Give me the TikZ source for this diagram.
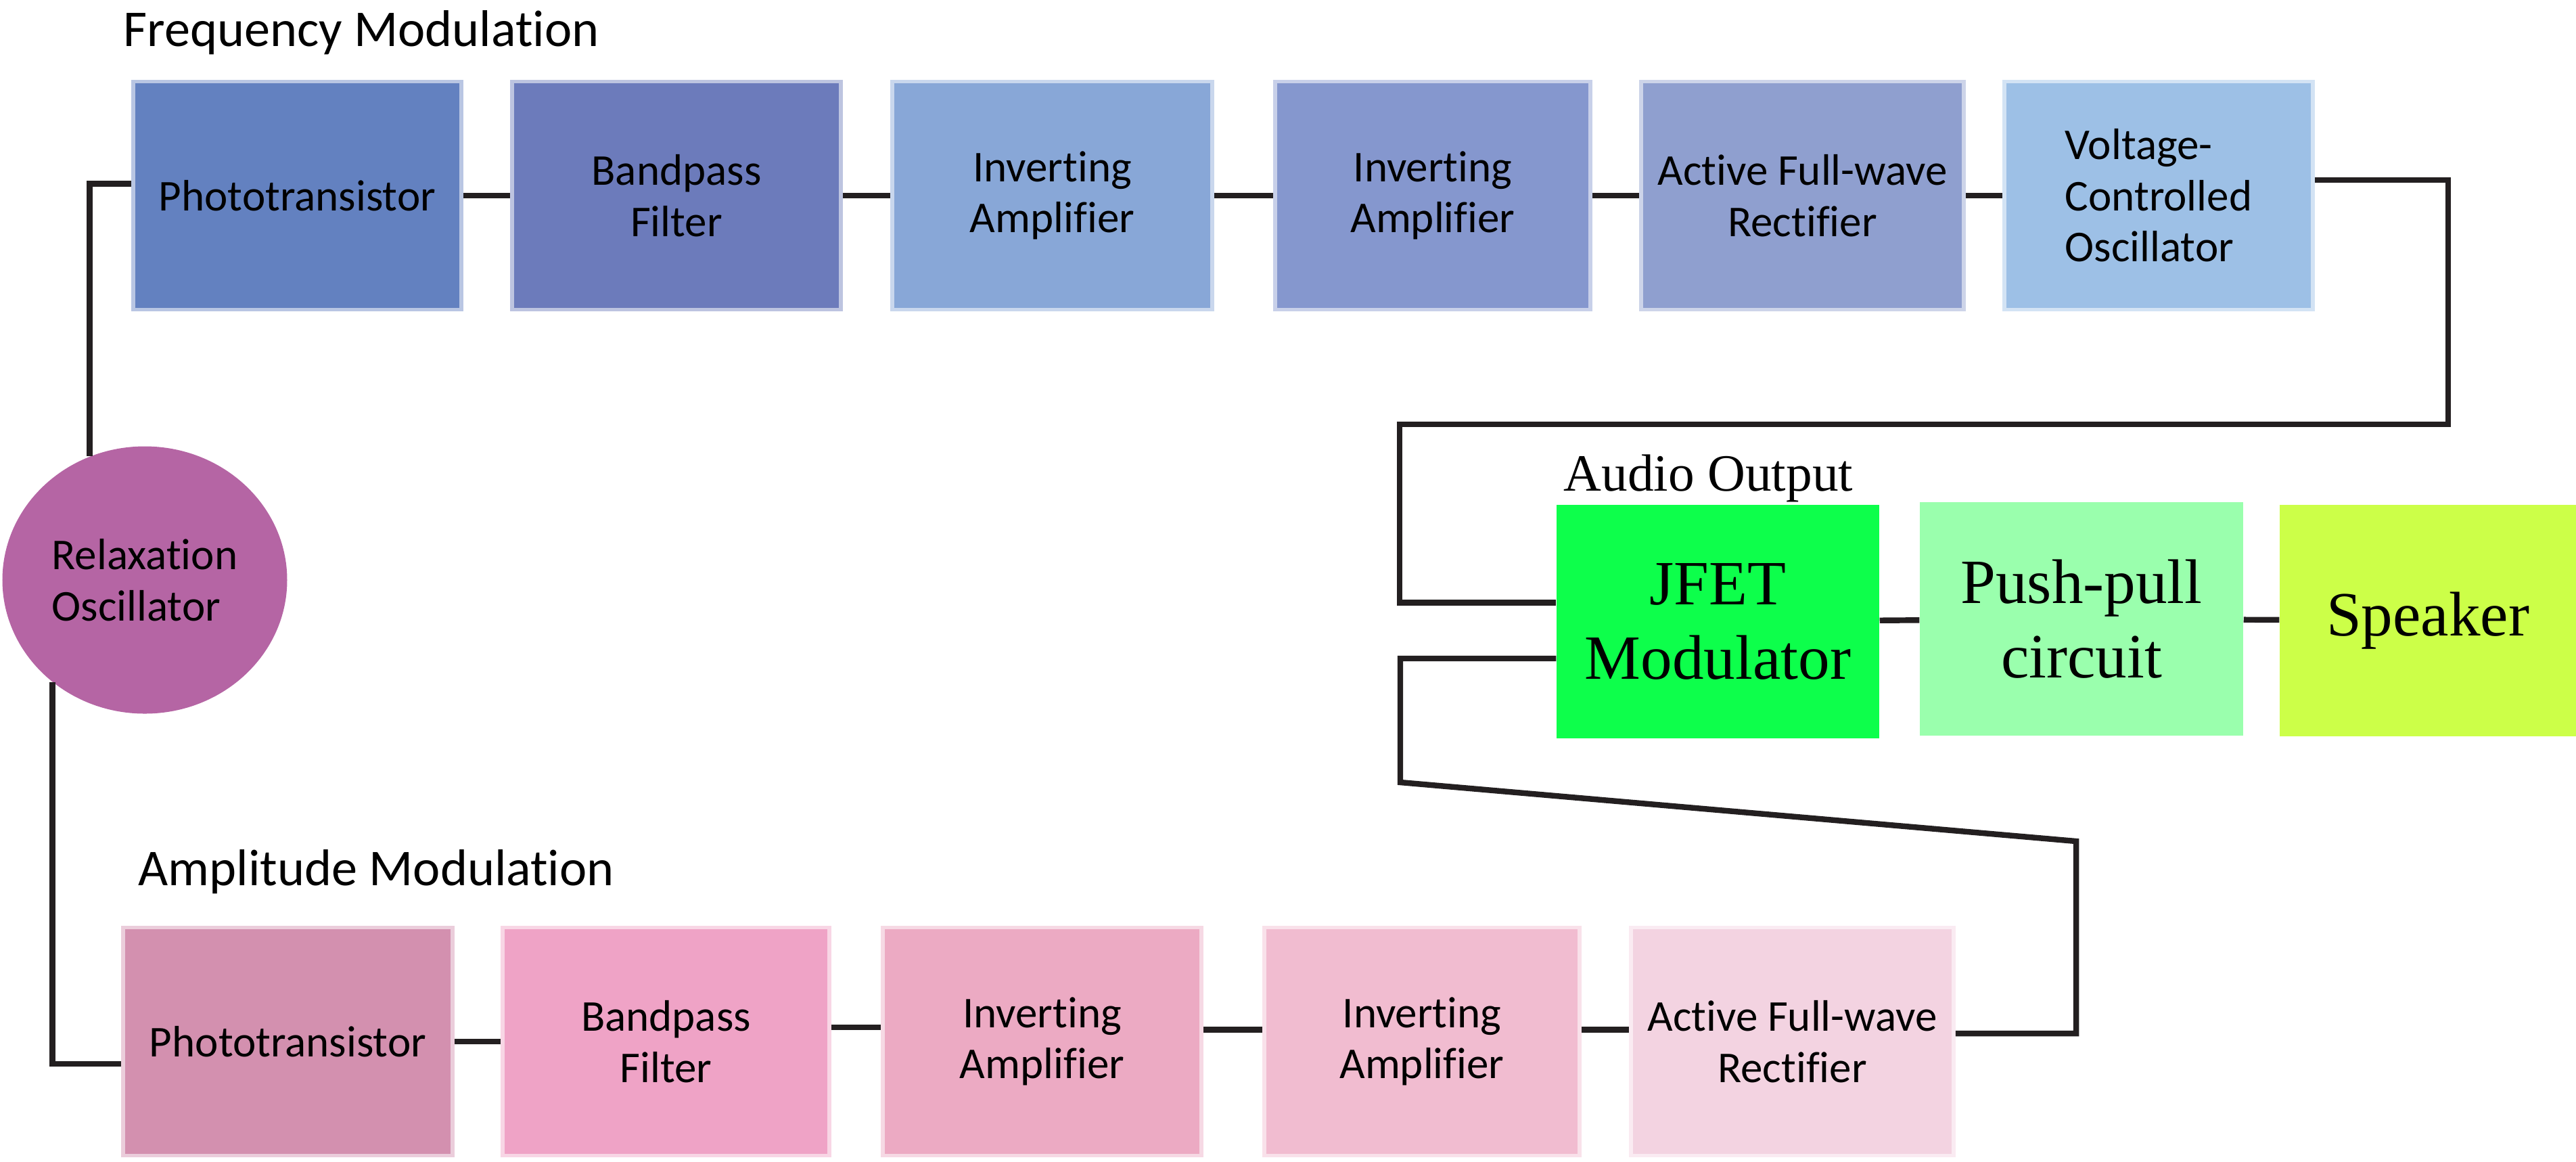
\documentclass[tikz,border=0pt]{standalone}
\usepackage{fontspec}
\setmainfont{Liberation Serif}
\newfontfamily\boxfont[Ligatures=NoCommon]{Carlito}
\usepackage{tikz}
\usetikzlibrary{shapes}
\usepackage{xcolor}
\definecolor{wirecol}{HTML}{231F20}
\definecolor{fmA}{HTML}{6381C0}
\definecolor{fmB}{HTML}{6C7BBB}
\definecolor{fmC}{HTML}{88A7D7}
\definecolor{fmD}{HTML}{8597CE}
\definecolor{fmE}{HTML}{8F9FCF}
\definecolor{fmF}{HTML}{9DC0E6}
\definecolor{amA}{HTML}{D390AF}
\definecolor{amB}{HTML}{EFA3C6}
\definecolor{amC}{HTML}{ECAAC3}
\definecolor{amD}{HTML}{F1BCD0}
\definecolor{amE}{HTML}{F3D3E1}
\definecolor{osccol}{HTML}{B565A4}
\definecolor{jfetcol}{HTML}{0DFF4B}
\definecolor{pushcol}{HTML}{9AFFAD}
\definecolor{spkcol}{HTML}{CCFF48}

\begin{document}
\begin{tikzpicture}[x=1cm,y=-1cm,
    box/.style={rectangle, inner sep=0pt, minimum height=3.37cm, minimum width=4.77cm, align=center, line width=1.6pt, font=\boxfont\fontsize{18.5}{21.5}\selectfont},
    fill box/.style={box, fill=#1, draw=#1!45!white},
    outbox/.style={rectangle, inner sep=0pt, minimum height=3.45cm, minimum width=4.77cm, align=center, font=\fontsize{26.5}{31.5}\selectfont},
    title/.style={anchor=base west, inner sep=0pt, font=\boxfont\fontsize{21.7}{26}\selectfont},
    wire/.style={line width=2.4pt, color=wirecol}]
     \useasboundingbox (0,0) rectangle (38.08,17.16);
     \node [title] (fmtitle) at (1.82,0.68) {Frequency Modulation};
     \node [fill box=fmA, minimum width=4.85cm] (pt1) at (4.395,2.89) {Phototransistor};
     \node [fill box=fmB, minimum width=4.86cm] (bp1) at (10.0,2.89) {Bandpass\\Filter};
     \node [fill box=fmC, minimum width=4.73cm] (inv1a) at (15.555,2.89) {Inverting\\Amplifier};
     \node [fill box=fmD, minimum width=4.66cm] (inv1b) at (21.18,2.89) {Inverting\\Amplifier};
     \node [fill box=fmE] (afw1) at (26.645,2.89) {Active Full-wave\\Rectifier};
     \node [fill box=fmF, minimum width=4.56cm, align=left] (vco) at (31.91,2.89) {Voltage-\\Controlled\\Oscillator};
     \node [ellipse, fill=osccol, minimum width=4.21cm, minimum height=3.95cm, inner sep=0pt, align=left, font=\boxfont\fontsize{18.5}{21.5}\selectfont] (osc) at (2.14,8.57) {Relaxation\\Oscillator};
     \node [anchor=base west, inner sep=0pt, font=\fontsize{22}{26}\selectfont] (audio) at (23.11,7.25) {Audio Output};
     \node [outbox, fill=jfetcol] (jfet) at (25.395,9.185) {JFET\\Modulator};
     \node [outbox, fill=pushcol, minimum width=4.78cm] (push) at (30.77,9.145) {Push-pull\\circuit};
     \node [outbox, fill=spkcol, minimum width=4.38cm, minimum height=3.42cm] (spk) at (35.89,9.17) {Speaker};
     \node [title] (amtitle) at (2.04,13.08) {Amplitude Modulation};
     \node [fill box=amA, minimum width=4.87cm] (pt2) at (4.255,15.39) {Phototransistor};
     \node [fill box=amB, minimum width=4.83cm] (bp2) at (9.845,15.39) {Bandpass\\Filter};
     \node [fill box=amC, minimum width=4.71cm] (inv2a) at (15.405,15.39) {Inverting\\Amplifier};
     \node [fill box=amD, minimum width=4.66cm] (inv2b) at (21.02,15.39) {Inverting\\Amplifier};
     \node [fill box=amE] (afw2) at (26.495,15.39) {Active Full-wave\\Rectifier};
     \coordinate (fmturn) at (36.19,6.27);
     \coordinate (fmdrop) at (20.69,6.27);
     \coordinate (amturn) at (30.69,12.43);
     \coordinate (amdrop) at (20.70,11.56);
     \draw [wire] (osc.114) |- ([yshift=5pt]pt1.west);
     \draw [wire] (osc.228) |- ([yshift=-9.4pt]pt2.west);
     \draw [wire] (pt1) -- (bp1);
     \draw [wire] (bp1) -- (inv1a);
     \draw [wire] (inv1a) -- (inv1b);
     \draw [wire] (inv1b) -- (afw1);
     \draw [wire] (afw1) -- (vco);
     \draw [wire] ([yshift=6.5pt]vco.east) -| (fmturn) -- (fmdrop) |- ([yshift=8pt]jfet.west);
     \draw [wire] (pt2) -- (bp2);
     \draw [wire] ([yshift=6pt]bp2.east) -- ([yshift=6pt]inv2a.west);
     \draw [wire] ([yshift=5pt]inv2a.east) -- ([yshift=5pt]inv2b.west);
     \draw [wire] ([yshift=5pt]inv2b.east) -- ([yshift=5pt]afw2.west);
     \draw [wire] ([yshift=3.4pt]afw2.east) -| (amturn) -- (amdrop) |- ([yshift=-15.5pt]jfet.west);
     \draw [wire] (jfet) -- (push);
     \draw [wire] (push) -- (spk);
\end{tikzpicture}
\end{document}
